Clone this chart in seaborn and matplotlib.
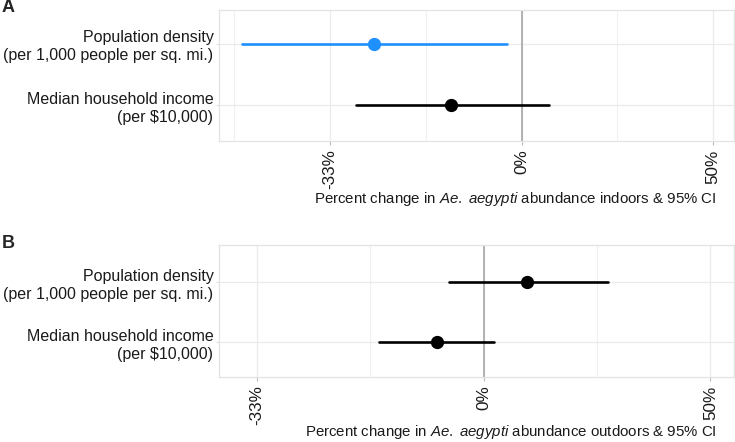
import numpy as np
import pandas as pd
import matplotlib
matplotlib.use("Agg")
import matplotlib.pyplot as plt
from matplotlib.ticker import FixedLocator, NullFormatter
import seaborn as sns

# ---- data (percent change) ----
variables = ["Population density\n(per 1,000 people per sq. mi.)",
             "Median household income\n(per $10,000)"]
indoor_est = [-26.8, -13.8]
indoor_lo = [-44.7, -29.5]
indoor_hi = [-3.0, 6.0]
indoor_sig = ["yes", "no"]

outdoor_est = [8.1, -8.1]
outdoor_lo = [-6.1, -17.1]
outdoor_hi = [25.0, 1.9]
outdoor_sig = ["no", "no"]

tick_pct = [-33.33, 0, 50]
tick_labels = ["-33%", "0%", "50%"]
minor_pct = [-45.57, -18.35, 22.47, 83.7]

sns.set_theme(style="white")
plt.rcParams["font.family"] = ["Liberation Sans", "DejaVu Sans"]
plt.rcParams["mathtext.fontset"] = "custom"
plt.rcParams["mathtext.rm"] = "Liberation Sans"
plt.rcParams["mathtext.it"] = "Liberation Sans:italic"

W, H = 735, 442
fig = plt.figure(figsize=(W / 100, H / 100), dpi=100)


def long_frame(est, lo, hi, sig):
    rows = []
    for v, e, l, h, s in zip(variables, est, lo, hi, sig):
        for val in (l, e, h):
            rows.append({"variable": v, "ratio": 1 + val / 100.0, "sig": s})
    return pd.DataFrame(rows)


def panel(rect_px, df, xlim, ylim, letter, letter_y, xlabel, xlabel_y):
    l, t, r, b = rect_px
    ax = fig.add_axes([l / W, 1 - b / H, (r - l) / W, (b - t) / H])
    ax.set_xscale("log")
    # grid
    for m in minor_pct:
        ax.axvline(1 + m / 100, color="#f0f0f0", lw=0.8, zorder=0)
    for m in tick_pct:
        ax.axvline(1 + m / 100, color="#ebebeb", lw=0.9, zorder=0)
    for yy in range(len(variables)):
        ax.axhline(yy, color="#ebebeb", lw=0.9, zorder=0)
    ax.axvline(1.0, color="#a6a6a6", lw=1.2, zorder=1)
    sns.pointplot(data=df, x="ratio", y="variable", hue="sig",
                  palette={"yes": "#1E90FF", "no": "black"},
                  hue_order=["yes", "no"], order=variables,
                  estimator="median", errorbar=("pi", 100),
                  linestyle="none", dodge=False, markersize=7.5,
                  err_kws={"linewidth": 1.9}, legend=False, ax=ax, zorder=3)
    ax.set_xlim(*xlim)
    ax.set_ylim(*ylim)
    ax.xaxis.set_major_locator(FixedLocator([1 + p / 100 for p in tick_pct]))
    ax.xaxis.set_minor_locator(FixedLocator([]))
    ax.xaxis.set_minor_formatter(NullFormatter())
    ax.set_xticklabels(tick_labels, rotation=90, va="top", ha="center")
    ax.tick_params(axis="x", which="major", length=3, width=0.8, color="#bbbbbb",
                   labelsize=12.3, pad=3, labelcolor="#1a1a1a", bottom=True)
    ax.tick_params(axis="y", length=2, width=0.8, color="#dddddd",
                   labelsize=11.5, pad=2, labelcolor="#1a1a1a", left=True)
    for lab in ax.get_yticklabels():
        lab.set_ha("right")
        lab.set_multialignment("right")
        lab.set_linespacing(1.25)
    ax.set_xlabel("")
    ax.set_ylabel("")
    for s in ax.spines.values():
        s.set_visible(True)
        s.set_color("#e3e3e3")
        s.set_linewidth(0.9)
    fig.text(2 / W, 1 - letter_y / H, letter, fontsize=13, fontweight="bold",
             ha="left", va="center")
    fig.text(717 / W, 1 - xlabel_y / H, xlabel, fontsize=10.8, ha="right",
             va="center", color="#1a1a1a")
    return ax


dfA = long_frame(indoor_est, indoor_lo, indoor_hi, indoor_sig)
dfB = long_frame(outdoor_est, outdoor_lo, outdoor_hi, outdoor_sig)

panel((219, 10, 734, 141), dfA, (0.527, 1.568), (1.59, -0.557), "A", 8,
      r"Percent change in $\mathit{Ae.}$ $\mathit{aegypti}$ abundance indoors & 95% CI", 199)
panel((219, 245, 734, 377), dfB, (0.6226, 1.565), (1.58, -0.62), "B", 243,
      r"Percent change in $\mathit{Ae.}$ $\mathit{aegypti}$ abundance outdoors & 95% CI", 432)

fig.savefig("out.png", dpi=100)
